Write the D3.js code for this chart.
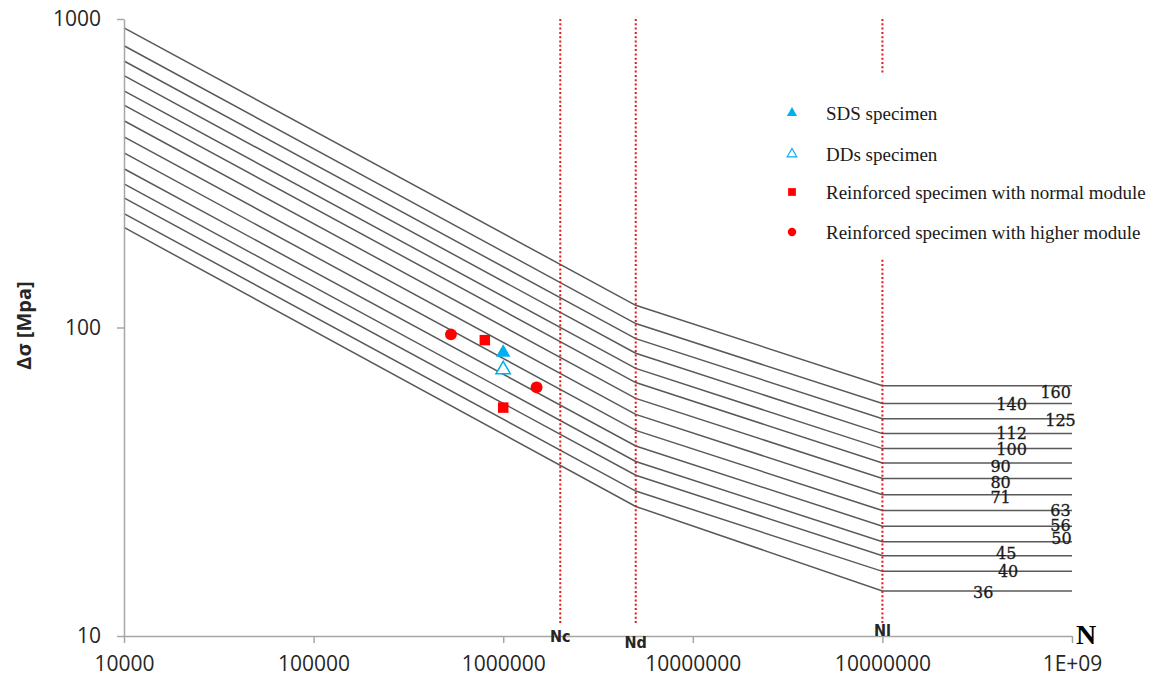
<!DOCTYPE html>
<html lang="en">
<head>
<meta charset="utf-8">
<title>S-N fatigue curves</title>
<script src="https://d3js.org/d3.v7.min.js"></script>
<style>
  body { margin: 0; background: #fff; }
  svg { display: block; }
  .axis path, .axis line { stroke: #a6a6a6; stroke-width: 1.5; }
  .axis text { font-family: "Open Sans", sans-serif; font-size: 21px; fill: #262626; }
</style>
</head>
<body>
<div id="chart"></div>
<script>
// detail categories and the stress range of each curve at its break points
var categories = [160, 140, 125, 112, 100, 90, 80, 71, 63, 56, 50, 45, 40, 36];
var breakN = [1e4, 5e6, 1e8, 1e9];
var stressStart = [936, 819, 731, 655, 585, 526, 468, 415, 368, 327, 292, 263, 234, 211];
var stressNd = [118, 103, 92, 82.5, 73.7, 66.3, 58.9, 52.3, 46.4, 41.3, 36.8, 33.2, 29.5, 26.3];
var stressNl = [64.8, 56.7, 50.6, 45.3, 40.5, 36.4, 32.4, 28.7, 25.5, 22.7, 20.2, 18.2, 16.2, 14.0];

// where the category label sits along N
var labelN = [8.2e8, 4.8e8, 8.7e8, 4.8e8, 4.8e8, 4.2e8, 4.2e8, 4.2e8, 8.7e8, 8.7e8, 8.8e8, 4.5e8, 4.6e8, 3.4e8];
var labelDy = [7, 1, 2, 0, 1, 3, 4, 3, 0, -1, -3, -2, 0, 1];

// reference cycle counts
var refNames = ["Nc", "Nd", "Nl"];
var refN = [2e6, 5e6, 1e8];

// test results
var sdsN = [1e6], sdsS = [83];
var ddsN = [1e6], ddsS = [73];
var normalN = [8.0e5, 1e6], normalS = [91, 55];
var higherN = [5.3e5, 1.5e6], higherS = [95, 64];

var xTicks = [1e4, 1e5, 1e6, 1e7, 1e8, 1e9];
var xTickLabels = ["10000", "100000", "1000000", "10000000", "10000000", "1E+09"];
var yTicks = [10, 100, 1000];

var width = 1164, height = 685;
var plotLeft = 124, plotRight = 1072, plotTop = 19, plotBottom = 636;

var svg = d3.select("#chart").append("svg")
    .attr("width", width)
    .attr("height", height);

var x = d3.scaleLog().domain([1e4, 1e9]).range([plotLeft, plotRight]);
var y = d3.scaleLog().domain([10, 1000]).range([plotBottom, plotTop]);

// curves
var line = d3.line()
    .x(function(d) { return x(d[0]); })
    .y(function(d) { return y(d[1]); });

var curves = categories.map(function(c, i) {
  return [[breakN[0], stressStart[i]], [breakN[1], stressNd[i]],
          [breakN[2], stressNl[i]], [breakN[3], stressNl[i]]];
});

svg.append("g").selectAll("path")
    .data(curves)
    .enter().append("path")
    .attr("d", line)
    .attr("fill", "none")
    .attr("stroke", "#595959")
    .attr("stroke-width", 1.5);

// red dotted reference lines
svg.append("g").selectAll("line")
    .data(refN)
    .enter().append("line")
    .attr("x1", function(d) { return x(d); })
    .attr("x2", function(d) { return x(d); })
    .attr("y1", plotTop)
    .attr("y2", plotBottom - 12)
    .attr("stroke", "#e31a1c")
    .attr("stroke-width", 2)
    .attr("stroke-dasharray", "2,2.3");

// axes
var xAxis = svg.append("g")
    .attr("class", "axis")
    .attr("transform", "translate(0," + plotBottom + ")")
    .call(d3.axisBottom(x).tickValues(xTicks).tickSize(7).tickSizeOuter(0)
      .tickFormat(function(d, i) { return xTickLabels[i]; }));
xAxis.selectAll("text").attr("y", 20);

var yAxis = svg.append("g")
    .attr("class", "axis")
    .attr("transform", "translate(" + plotLeft + ",0)")
    .call(d3.axisLeft(y).tickValues(yTicks).tickSize(7).tickSizeOuter(0)
      .tickFormat(d3.format("d")));
yAxis.selectAll("text").attr("x", -23);

// axis titles
svg.append("text")
    .attr("transform", "translate(24," + ((plotTop + plotBottom) / 2 - 2) + ") rotate(-90)")
    .attr("text-anchor", "middle")
    .attr("dy", "0.35em")
    .style("font-family", "'Open Sans', sans-serif")
    .style("font-weight", "bold")
    .style("font-size", "20px")
    .attr("fill", "#262626")
    .text("Δσ [Mpa]");

svg.append("text")
    .attr("x", plotRight + 4)
    .attr("y", plotBottom + 8)
    .style("font-family", "'Liberation Serif', serif")
    .style("font-weight", "bold")
    .style("font-size", "28px")
    .text("N");

// reference labels
var refDy = [0, 6, -6];
svg.append("g").selectAll("text")
    .data(refN)
    .enter().append("text")
    .attr("x", function(d) { return x(d); })
    .attr("y", function(d, i) { return plotBottom + refDy[i]; })
    .attr("text-anchor", "middle")
    .attr("dy", "0.35em")
    .style("font-family", "'DejaVu Sans', sans-serif")
    .style("font-weight", "bold")
    .style("font-size", "16px")
    .style("font-stretch", "condensed")
    .attr("fill", "#262626")
    .text(function(d, i) { return refNames[i]; });

// category labels
svg.append("g").selectAll("text")
    .data(categories)
    .enter().append("text")
    .attr("x", function(d, i) { return x(labelN[i]); })
    .attr("y", function(d, i) { return y(stressNl[i]) + labelDy[i]; })
    .attr("text-anchor", "middle")
    .attr("dy", "0.35em")
    .style("font-family", "'DejaVu Serif', serif")
    .style("font-size", "16px")
    .attr("fill", "#1a1a1a")
    .attr("stroke", "#1a1a1a")
    .attr("stroke-width", 0.3)
    .text(function(d) { return d; });

// markers
var blue = "#00b0f0", red = "#ff0000";
var tri = d3.symbol().type(d3.symbolTriangle).size(90);
var sq = d3.symbol().type(d3.symbolSquare).size(110);
var circ = d3.symbol().type(d3.symbolCircle).size(110);

function pts(xs, ys) { return xs.map(function(v, i) { return [v, ys[i]]; }); }
function place(d) { return "translate(" + x(d[0]) + "," + y(d[1]) + ")"; }

var marks = svg.append("g");
marks.selectAll(".sds").data(pts(sdsN, sdsS)).enter().append("path")
    .attr("d", tri)
    .attr("transform", place)
    .attr("fill", blue);
marks.selectAll(".dds").data(pts(ddsN, ddsS)).enter().append("path")
    .attr("d", tri)
    .attr("transform", place)
    .attr("fill", "#fff")
    .attr("stroke", blue)
    .attr("stroke-width", 1.5);
marks.selectAll(".normal").data(pts(normalN, normalS)).enter().append("path")
    .attr("d", sq)
    .attr("transform", place)
    .attr("fill", red);
marks.selectAll(".higher").data(pts(higherN, higherS)).enter().append("path")
    .attr("d", circ)
    .attr("transform", place)
    .attr("fill", red);

// legend
var legendItems = [
  { label: "SDS specimen", sym: d3.symbol().type(d3.symbolTriangle).size(45), fill: blue, stroke: "none" },
  { label: "DDs specimen", sym: d3.symbol().type(d3.symbolTriangle).size(40), fill: "#fff", stroke: blue },
  { label: "Reinforced specimen with normal module", sym: d3.symbol().type(d3.symbolSquare).size(60), fill: red, stroke: "none" },
  { label: "Reinforced specimen with higher module", sym: d3.symbol().type(d3.symbolCircle).size(55), fill: red, stroke: "none" }
];
var legend = svg.append("g").attr("transform", "translate(745,75)");
legend.append("rect")
    .attr("width", 415)
    .attr("height", 183)
    .attr("fill", "#fff");
var item = legend.selectAll(".item")
    .data(legendItems)
    .enter().append("g")
    .attr("transform", function(d, i) { return "translate(0," + [38, 79, 117, 157][i] + ")"; });
item.append("path")
    .attr("d", function(d) { return d.sym(); })
    .attr("transform", "translate(47,0)")
    .attr("fill", function(d) { return d.fill; })
    .attr("stroke", function(d) { return d.stroke; })
    .attr("stroke-width", 1.2);
item.append("text")
    .attr("x", 81)
    .attr("dy", "0.35em")
    .style("font-family", "'Liberation Serif', serif")
    .style("font-size", "19px")
    .attr("fill", "#1a1a1a")
    .text(function(d) { return d.label; });
</script>
</body>
</html>
